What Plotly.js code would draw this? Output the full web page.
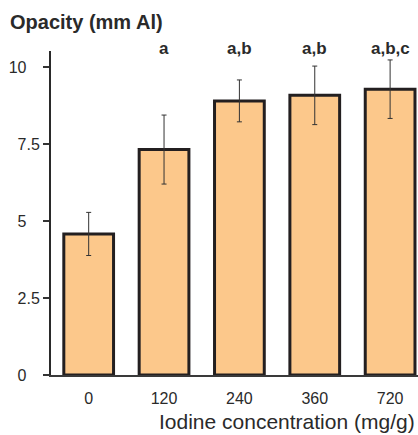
<!DOCTYPE html>
<html>
<head>
<meta charset="utf-8">
<script src="https://cdn.plot.ly/plotly-3.0.1.min.js"></script>
<style>html,body{margin:0;padding:0;background:#fff;}#chart{width:418px;height:435px;}</style>
</head>
<body>
<div id="chart"></div>
<script>
const categories = ['0', '120', '240', '360', '720'];
const opacity = [4.58, 7.32, 8.9, 9.08, 9.28];
const errors = [0.7, 1.12, 0.68, 0.95, 0.95];
const letters = ['', 'a', 'a,b', 'a,b', 'a,b,c'];
const yTickVals = [0, 2.5, 5, 7.5, 10];
const yTickText = ['0\u00a0\u00a0\u00a0', '2.5', '5\u00a0\u00a0\u00a0', '7.5', '10\u00a0\u00a0\u00a0'];

const txt = '#2a2a2a';
const font = 'Liberation Sans, Arial, sans-serif';

const trace = {
  type: 'bar',
  x: categories,
  y: opacity,
  width: 0.66,
  marker: {color: '#fcc88b', line: {color: '#231f20', width: 3}},
  error_y: {type: 'data', array: errors, visible: true, color: '#333', thickness: 1, width: 2.5},
  hoverinfo: 'none'
};

const annotations = [];
letters.forEach((t, i) => {
  if (!t) return;
  annotations.push({
    x: i, y: 1.009, xref: 'x', yref: 'paper', text: '<b>' + t + '</b>', showarrow: false,
    font: {family: font, size: 17, color: txt}, yanchor: 'middle', xanchor: 'center'
  });
});

annotations.push({
  xref: 'paper', yref: 'paper', x: 1.0, y: 0, xshift: -1, yshift: -46, xanchor: 'right', yanchor: 'middle',
  text: 'Iodine concentration (mg/g)', showarrow: false,
  font: {family: font, size: 21, color: txt}
});

const layout = {
  width: 418, height: 435,
  margin: {l: 51, r: 0, t: 51, b: 60},
  paper_bgcolor: '#fff', plot_bgcolor: '#fff',
  showlegend: false,
  title: {text: '<b>Opacity (mm Al)</b>', x: 10/418, xref: 'container', xanchor: 'left',
          y: 1 - 22/435, yref: 'container', yanchor: 'middle',
          font: {family: font, size: 20, color: txt}},
  xaxis: {
    type: 'category', range: [-0.5, 4.37], showgrid: false, zeroline: false,
    showline: true, linecolor: '#3a3a3a', linewidth: 2, ticks: '',
    tickfont: {family: font, size: 16, color: txt}, ticklabelstandoff: 8
  },
  yaxis: {
    range: [0, 10.52], showgrid: false, zeroline: false,
    showline: true, linecolor: '#2a2a2a', linewidth: 2,
    ticks: 'outside', ticklen: 6, tickwidth: 1.5, tickcolor: '#333',
    tickvals: yTickVals, ticktext: yTickText,
    tickfont: {family: font, size: 16, color: txt}
  },
  annotations: annotations
};

Plotly.newPlot('chart', [trace], layout, {staticPlot: true});
</script>
</body>
</html>
